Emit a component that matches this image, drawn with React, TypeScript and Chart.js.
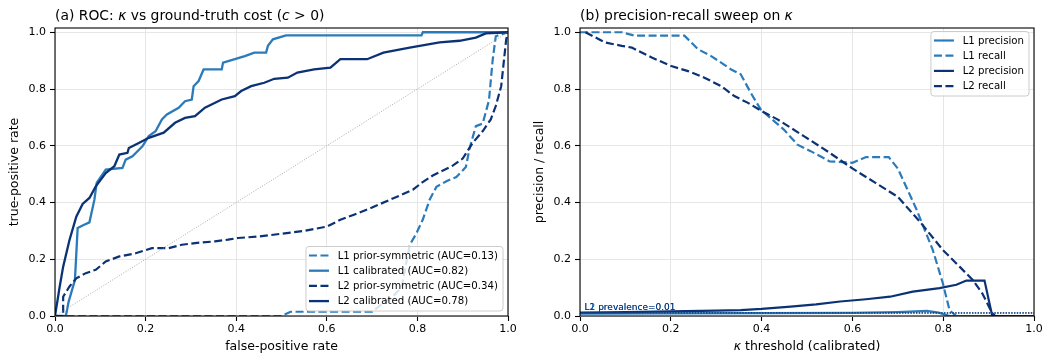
import React, { useEffect, useRef } from 'react';
import { Chart, registerables } from 'chart.js';

Chart.register(...registerables);

const FONT = '"DejaVu Sans", sans-serif';
const L1_COLOR = '#2b7bba';
const L2_COLOR = '#0b3275';
const GRID = '#e6e6e6';

const TICKS = [0, 0.2, 0.4, 0.6, 0.8, 1.0];
const Y_MAX = 1.015;

// ---------- (a) ROC ----------
const ROC_LABELS = [
  'L1 prior-symmetric (AUC=0.13)',
  'L1 calibrated (AUC=0.82)',
  'L2 prior-symmetric (AUC=0.34)',
  'L2 calibrated (AUC=0.78)',
];

const L1_PRIOR_FPR = [0, 0.5, 0.52, 0.7, 0.72, 0.74, 0.765, 0.783, 0.798, 0.812, 0.827, 0.842, 0.864, 0.886, 0.907, 0.915, 0.929, 0.944, 0.958, 0.966, 0.973, 1.0];
const L1_PRIOR_TPR = [0, 0, 0.015, 0.015, 0.04, 0.06, 0.1, 0.25, 0.292, 0.34, 0.41, 0.455, 0.475, 0.49, 0.525, 0.59, 0.669, 0.678, 0.76, 0.9, 0.986, 1.0];

const L1_CAL_FPR = [0, 0.024, 0.03, 0.044, 0.05, 0.062, 0.076, 0.087, 0.092, 0.112, 0.149, 0.156, 0.171, 0.193, 0.207, 0.222, 0.236, 0.247, 0.273, 0.287, 0.302, 0.306, 0.317, 0.328, 0.368, 0.371, 0.397, 0.419, 0.44, 0.466, 0.47, 0.481, 0.51, 0.809, 0.812, 1.0];
const L1_CAL_TPR = [0, 0, 0.05, 0.127, 0.31, 0.32, 0.33, 0.41, 0.469, 0.516, 0.522, 0.551, 0.563, 0.598, 0.634, 0.651, 0.693, 0.71, 0.734, 0.757, 0.763, 0.81, 0.828, 0.869, 0.869, 0.893, 0.905, 0.916, 0.928, 0.928, 0.952, 0.975, 0.989, 0.989, 1.0, 1.0];

const L2_PRIOR_FPR = [0, 0.018, 0.018, 0.032, 0.047, 0.068, 0.09, 0.112, 0.142, 0.178, 0.214, 0.251, 0.28, 0.309, 0.353, 0.382, 0.404, 0.45, 0.5, 0.55, 0.6, 0.63, 0.66, 0.696, 0.74, 0.79, 0.81, 0.834, 0.878, 0.9, 0.922, 0.944, 0.962, 0.973, 0.985, 0.996, 1.0];
const L2_PRIOR_TPR = [0, 0, 0.068, 0.104, 0.133, 0.151, 0.163, 0.192, 0.21, 0.221, 0.239, 0.239, 0.251, 0.257, 0.263, 0.269, 0.275, 0.28, 0.29, 0.3, 0.315, 0.339, 0.357, 0.38, 0.41, 0.445, 0.47, 0.495, 0.53, 0.555, 0.61, 0.651, 0.693, 0.74, 0.81, 0.975, 1.0];

const L2_CAL_FPR = [0, 0.005, 0.01, 0.018, 0.032, 0.047, 0.061, 0.076, 0.09, 0.112, 0.131, 0.142, 0.16, 0.163, 0.185, 0.207, 0.24, 0.265, 0.287, 0.309, 0.331, 0.368, 0.397, 0.411, 0.433, 0.462, 0.484, 0.514, 0.535, 0.572, 0.608, 0.63, 0.689, 0.725, 0.783, 0.849, 0.893, 0.929, 0.951, 1.0];
const L2_CAL_TPR = [0, 0.05, 0.1, 0.174, 0.268, 0.35, 0.395, 0.416, 0.457, 0.504, 0.528, 0.569, 0.575, 0.592, 0.61, 0.628, 0.646, 0.681, 0.698, 0.704, 0.734, 0.763, 0.775, 0.793, 0.81, 0.822, 0.836, 0.84, 0.858, 0.869, 0.875, 0.905, 0.905, 0.928, 0.946, 0.964, 0.97, 0.981, 0.996, 1.0];

const CHANCE_X = [0, 1];
const CHANCE_Y = [0, 1];

// ---------- (b) precision-recall ----------
const PR_LABELS = ['L1 precision', 'L1 recall', 'L2 precision', 'L2 recall'];

const L1_PREC_K = [0, 0.2, 0.4, 0.6, 0.7, 0.764, 0.79, 0.814, 1.0];
const L1_PREC = [0.008, 0.009, 0.01, 0.011, 0.014, 0.018, 0.012, 0, 0];

const L1_REC_K = [0, 0.012, 0.092, 0.121, 0.23, 0.26, 0.289, 0.333, 0.354, 0.376, 0.398, 0.449, 0.479, 0.508, 0.55, 0.6, 0.63, 0.68, 0.7, 0.74, 0.777, 0.799, 0.814, 0.829];
const L1_REC = [1.0, 1.0, 1.0, 0.988, 0.988, 0.94, 0.916, 0.869, 0.852, 0.787, 0.728, 0.657, 0.604, 0.581, 0.545, 0.54, 0.56, 0.56, 0.52, 0.38, 0.233, 0.117, 0.02, 0];

const L2_PREC_K = [0, 0.1, 0.2, 0.3, 0.354, 0.4, 0.464, 0.52, 0.573, 0.63, 0.683, 0.733, 0.792, 0.829, 0.851, 0.891, 0.908, 1.0];
const L2_PREC = [0.012, 0.014, 0.016, 0.019, 0.021, 0.025, 0.033, 0.041, 0.051, 0.059, 0.068, 0.086, 0.098, 0.11, 0.125, 0.125, 0, 0];

const L2_REC_K = [0.012, 0.055, 0.092, 0.114, 0.158, 0.201, 0.238, 0.274, 0.311, 0.34, 0.369, 0.406, 0.435, 0.493, 0.55, 0.6, 0.65, 0.7, 0.75, 0.799, 0.836, 0.865, 0.886, 0.908, 0.915];
const L2_REC = [1.0, 0.964, 0.952, 0.946, 0.911, 0.881, 0.863, 0.84, 0.81, 0.775, 0.752, 0.717, 0.693, 0.634, 0.575, 0.52, 0.47, 0.42, 0.33, 0.233, 0.174, 0.127, 0.08, 0.01, 0];

const PREVALENCE_NAMES = ['L1', 'L2'];
const PREVALENCE = [0.01, 0.011];

// ---------- helpers ----------
type Part = { t: string; it?: boolean };

const pts = (xs: number[], ys: number[]) => xs.map((x, i) => ({ x, y: ys[i] }));

function series(label: string | undefined, xs: number[], ys: number[], color: string, dash: number[], width: number, order: number) {
  return {
    label,
    data: pts(xs, ys),
    borderColor: color,
    backgroundColor: color,
    borderDash: dash,
    borderWidth: width,
    pointRadius: 0,
    pointHoverRadius: 0,
    tension: 0,
    fill: false,
    order,
    inLegend: !!label,
  } as any;
}

function drawParts(ctx: CanvasRenderingContext2D, parts: Part[], x: number, y: number, size: number, align: 'left' | 'center', color = '#000') {
  ctx.save();
  ctx.fillStyle = color;
  ctx.textBaseline = 'alphabetic';
  ctx.textAlign = 'left';
  const fonts = parts.map((p) => `${p.it ? 'italic ' : ''}${size}px ${FONT}`);
  let total = 0;
  const ws = parts.map((p, i) => {
    ctx.font = fonts[i];
    const w = ctx.measureText(p.t).width;
    total += w;
    return w;
  });
  let cx = align === 'center' ? x - total / 2 : x;
  parts.forEach((p, i) => {
    ctx.font = fonts[i];
    ctx.fillText(p.t, cx, y);
    cx += ws[i];
  });
  ctx.restore();
}

type DecorCfg = {
  title: Part[];
  xLabel: Part[];
  yLabel: string;
  yLabelX: number;
  legendLoc: 'upper' | 'lower';
  texts?: { text: string; color: string; x: number; y: number }[];
};

function makeDecor(cfg: DecorCfg) {
  return {
    id: 'decor',
    afterDatasetsDraw(chart: any) {
      const ctx: CanvasRenderingContext2D = chart.ctx;
      const xs = chart.scales.x;
      const ys = chart.scales.y;
      (cfg.texts || []).forEach((t) => {
        ctx.save();
        ctx.font = `9px ${FONT}`;
        ctx.fillStyle = t.color;
        ctx.textAlign = 'left';
        ctx.textBaseline = 'alphabetic';
        ctx.fillText(t.text, xs.getPixelForValue(t.x), ys.getPixelForValue(t.y) - 3);
        ctx.restore();
      });
    },
    afterDraw(chart: any) {
      const ctx: CanvasRenderingContext2D = chart.ctx;
      const ca = chart.chartArea;
      // frame
      ctx.save();
      ctx.strokeStyle = '#000';
      ctx.lineWidth = 1.1;
      ctx.strokeRect(ca.left, ca.top, ca.right - ca.left, ca.bottom - ca.top);
      ctx.restore();
      // title
      drawParts(ctx, cfg.title, ca.left, 20, 13.9, 'left');
      // x label
      drawParts(ctx, cfg.xLabel, (ca.left + ca.right) / 2, 350, 12.5, 'center');
      // y label
      ctx.save();
      ctx.translate(cfg.yLabelX, (ca.top + ca.bottom) / 2);
      ctx.rotate(-Math.PI / 2);
      ctx.font = `12.5px ${FONT}`;
      ctx.fillStyle = '#000';
      ctx.textAlign = 'center';
      ctx.textBaseline = 'middle';
      ctx.fillText(cfg.yLabel, 0, 0);
      ctx.restore();
      // legend
      const items = chart.data.datasets.filter((d: any) => d.inLegend);
      const fs = 10.2;
      ctx.save();
      ctx.font = `${fs}px ${FONT}`;
      let tw = 0;
      items.forEach((d: any) => { tw = Math.max(tw, ctx.measureText(d.label).width); });
      const bw = 3 + 20 + 8.7 + tw + 5;
      const bh = 64.5;
      const bx = ca.right - 5 - bw;
      const by = cfg.legendLoc === 'upper' ? ca.top + 3.5 : ca.bottom - 5 - bh;
      ctx.beginPath();
      (ctx as any).roundRect(bx, by, bw, bh, 3);
      ctx.fillStyle = 'rgba(255,255,255,0.8)';
      ctx.fill();
      ctx.strokeStyle = '#cccccc';
      ctx.lineWidth = 1;
      ctx.stroke();
      items.forEach((d: any, i: number) => {
        const cy = by + 9 + i * 15.2;
        ctx.beginPath();
        ctx.setLineDash(d.borderDash || []);
        ctx.strokeStyle = d.borderColor;
        ctx.lineWidth = d.borderWidth;
        ctx.moveTo(bx + 3, cy);
        ctx.lineTo(bx + 23, cy);
        ctx.stroke();
        ctx.setLineDash([]);
        ctx.fillStyle = '#000';
        ctx.textAlign = 'left';
        ctx.textBaseline = 'middle';
        ctx.fillText(d.label, bx + 31.7, cy + 0.5);
      });
      ctx.restore();
    },
  };
}

function axis(min: number, max: number, size: number, isY: boolean) {
  return {
    type: 'linear',
    min,
    max,
    afterBuildTicks: (s: any) => { s.ticks = TICKS.map((v) => ({ value: v })); },
    afterFit: (s: any) => { if (isY) s.width = size; else s.height = size; },
    grid: { color: GRID, lineWidth: 1, tickColor: '#000', tickLength: 5, tickWidth: 1.1, drawTicks: true },
    border: { display: false },
    ticks: {
      color: '#000',
      font: { family: FONT, size: 11 },
      padding: isY ? 4 : 2,
      maxRotation: 0,
      autoSkip: false,
      callback: (v: any) => Number(v).toFixed(1),
    },
  } as any;
}

function baseOptions(left: number, right: number) {
  return {
    responsive: false,
    animation: false,
    devicePixelRatio: 1,
    events: [],
    layout: { padding: { left: 0, right, top: 28, bottom: 0 } },
    plugins: { legend: { display: false }, tooltip: { enabled: false }, title: { display: false } },
    scales: { x: axis(0, 1, 40, false), y: axis(0, Y_MAX, left, true) },
  } as any;
}

const DASH = [8, 3.5];

function leftConfig(): any {
  return {
    type: 'line',
    data: {
      datasets: [
        series(ROC_LABELS[0], L1_PRIOR_FPR, L1_PRIOR_TPR, L1_COLOR, DASH, 2.2, 10),
        series(ROC_LABELS[1], L1_CAL_FPR, L1_CAL_TPR, L1_COLOR, [], 2.3, 9),
        series(ROC_LABELS[2], L2_PRIOR_FPR, L2_PRIOR_TPR, L2_COLOR, DASH, 2.2, 8),
        series(ROC_LABELS[3], L2_CAL_FPR, L2_CAL_TPR, L2_COLOR, [], 2.3, 7),
        series(undefined, CHANCE_X, CHANCE_Y, '#a0a0a0', [1, 1.6], 0.9, 6),
      ],
    },
    options: baseOptions(55, 22),
    plugins: [
      makeDecor({
        title: [{ t: '(a) ROC: ' }, { t: 'κ', it: true }, { t: ' vs ground-truth cost (' }, { t: 'c', it: true }, { t: ' > 0)' }],
        xLabel: [{ t: 'false-positive rate' }],
        yLabel: 'true-positive rate',
        yLabelX: 15,
        legendLoc: 'lower',
      }),
    ],
  };
}

function rightConfig(): any {
  const prevSeries = PREVALENCE.map((p, i) =>
    series(undefined, [0, 1], [p, p], i === 0 ? L1_COLOR : L2_COLOR, [1.4, 1.4], 1.1, 5 - i)
  );
  return {
    type: 'line',
    data: {
      datasets: [
        series(PR_LABELS[0], L1_PREC_K, L1_PREC, L1_COLOR, [], 2.2, 10),
        series(PR_LABELS[1], L1_REC_K, L1_REC, L1_COLOR, DASH, 2.2, 9),
        series(PR_LABELS[2], L2_PREC_K, L2_PREC, L2_COLOR, [], 2.2, 8),
        series(PR_LABELS[3], L2_REC_K, L2_REC, L2_COLOR, DASH, 2.2, 7),
        ...prevSeries,
      ],
    },
    options: baseOptions(50, 13),
    plugins: [
      makeDecor({
        title: [{ t: '(b) precision-recall sweep on ' }, { t: 'κ', it: true }],
        xLabel: [{ t: 'κ', it: true }, { t: ' threshold (calibrated)' }],
        yLabel: 'precision / recall',
        yLabelX: 10,
        legendLoc: 'upper',
        texts: PREVALENCE.map((p, i) => ({
          text: `${PREVALENCE_NAMES[i]} prevalence=${p.toFixed(2)}`,
          color: i === 0 ? L1_COLOR : L2_COLOR,
          x: 0.01,
          y: p,
        })),
      }),
    ],
  };
}

export default function App() {
  const leftRef = useRef<HTMLCanvasElement>(null);
  const rightRef = useRef<HTMLCanvasElement>(null);
  useEffect(() => {
    const c1 = new Chart(leftRef.current as HTMLCanvasElement, leftConfig());
    const c2 = new Chart(rightRef.current as HTMLCanvasElement, rightConfig());
    return () => {
      c1.destroy();
      c2.destroy();
    };
  }, []);
  return (
    <div style={{ position: 'absolute', left: 0, top: 0, width: 1047, height: 356, background: '#fff' }}>
      <canvas ref={leftRef} width={530} height={356} style={{ position: 'absolute', left: 0, top: 0 }} />
      <canvas ref={rightRef} width={517} height={356} style={{ position: 'absolute', left: 530, top: 0 }} />
    </div>
  );
}
